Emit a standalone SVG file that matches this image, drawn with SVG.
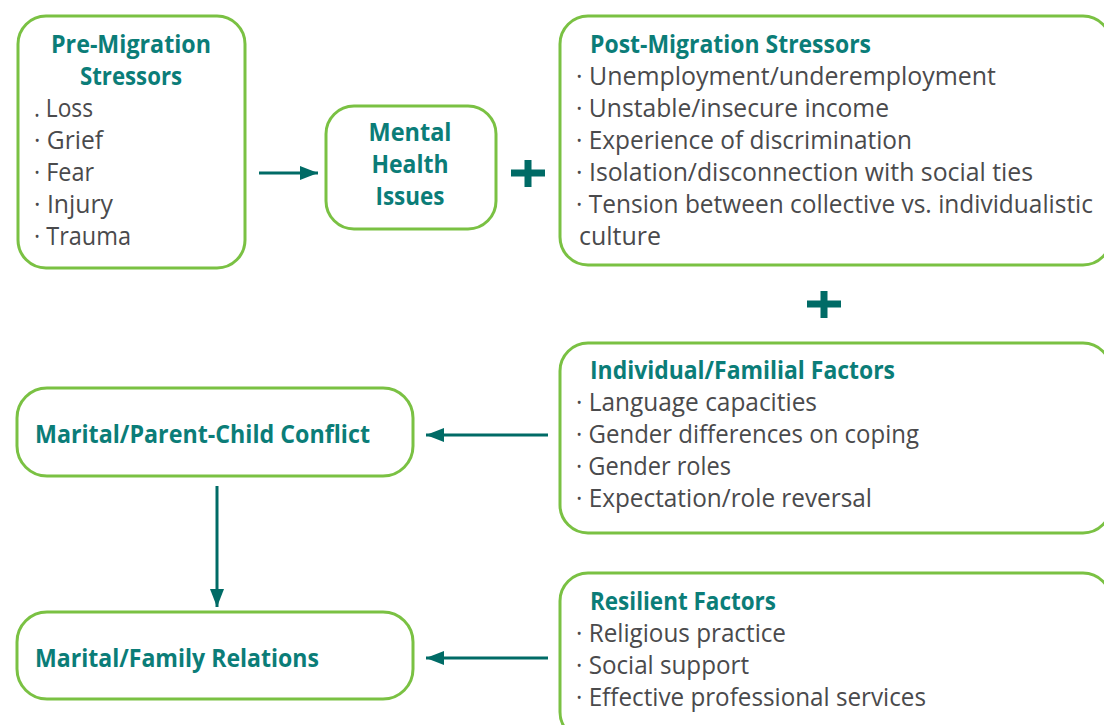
<svg xmlns="http://www.w3.org/2000/svg" width="1104" height="725" viewBox="0 0 1104 725">
<style>
.box{fill:#ffffff;stroke:#7ac143;stroke-width:3}
.hd{font-family:"Open Sans","Noto Sans","Liberation Sans",sans-serif;font-weight:bold;font-size:25px;fill:#0b7d78}
.bd{font-family:"Open Sans","Noto Sans","Liberation Sans",sans-serif;font-size:25px;fill:#4a4a4c}
.mid{text-anchor:middle}
.conn{stroke:#006b66;stroke-width:3;fill:none}
.plus{fill:#006b66}
</style>
<defs>
<marker id="ah" markerUnits="userSpaceOnUse" markerWidth="18" markerHeight="14" refX="18" refY="7" orient="auto">
<path d="M0,0 L18,7 L0,14 z" fill="#006b66"/>
</marker>
</defs>
<rect width="1104" height="725" fill="#ffffff"/>

<g id="pre-migration">
<rect class="box" x="18" y="16" width="227" height="252" rx="28"/>
<text class="hd mid" x="131" y="53" textLength="160" lengthAdjust="spacingAndGlyphs">Pre-Migration</text>
<text class="hd mid" x="131" y="85" textLength="102" lengthAdjust="spacingAndGlyphs">Stressors</text>
<text class="bd" x="34" y="117" textLength="59" lengthAdjust="spacingAndGlyphs">. Loss</text>
<text class="bd" x="34" y="149" textLength="69" lengthAdjust="spacingAndGlyphs">· Grief</text>
<text class="bd" x="34" y="181" textLength="60" lengthAdjust="spacingAndGlyphs">· Fear</text>
<text class="bd" x="34" y="213" textLength="79" lengthAdjust="spacingAndGlyphs">· Injury</text>
<text class="bd" x="34" y="245" textLength="97" lengthAdjust="spacingAndGlyphs">· Trauma</text>
</g>

<g id="mental-health">
<rect class="box" x="326" y="106" width="170" height="123" rx="28"/>
<text class="hd mid" x="410" y="141" textLength="83" lengthAdjust="spacingAndGlyphs">Mental</text>
<text class="hd mid" x="410" y="173" textLength="77" lengthAdjust="spacingAndGlyphs">Health</text>
<text class="hd mid" x="410" y="205" textLength="69" lengthAdjust="spacingAndGlyphs">Issues</text>
</g>

<g id="post-migration">
<rect class="box" x="560" y="16" width="551" height="249" rx="28"/>
<text class="hd" x="590" y="53" textLength="281" lengthAdjust="spacingAndGlyphs">Post-Migration Stressors</text>
<text class="bd" x="576" y="85" textLength="420" lengthAdjust="spacingAndGlyphs">· Unemployment/underemployment</text>
<text class="bd" x="576" y="117" textLength="313" lengthAdjust="spacingAndGlyphs">· Unstable/insecure income</text>
<text class="bd" x="576" y="149" textLength="336" lengthAdjust="spacingAndGlyphs">· Experience of discrimination</text>
<text class="bd" x="576" y="181" textLength="457" lengthAdjust="spacingAndGlyphs">· Isolation/disconnection with social ties</text>
<text class="bd" x="576" y="213" textLength="517" lengthAdjust="spacingAndGlyphs">· Tension between collective vs. individualistic</text>
<text class="bd" x="579" y="245" textLength="82" lengthAdjust="spacingAndGlyphs">culture</text>
</g>

<g id="individual-familial">
<rect class="box" x="560" y="343" width="551" height="190" rx="28"/>
<text class="hd" x="590" y="379" textLength="305" lengthAdjust="spacingAndGlyphs">Individual/Familial Factors</text>
<text class="bd" x="576" y="411" textLength="241" lengthAdjust="spacingAndGlyphs">· Language capacities</text>
<text class="bd" x="576" y="443" textLength="343" lengthAdjust="spacingAndGlyphs">· Gender differences on coping</text>
<text class="bd" x="576" y="475" textLength="155" lengthAdjust="spacingAndGlyphs">· Gender roles</text>
<text class="bd" x="576" y="507" textLength="296" lengthAdjust="spacingAndGlyphs">· Expectation/role reversal</text>
</g>

<g id="resilient">
<rect class="box" x="560" y="573" width="551" height="167" rx="28"/>
<text class="hd" x="590" y="610" textLength="186" lengthAdjust="spacingAndGlyphs">Resilient Factors</text>
<text class="bd" x="576" y="642" textLength="210" lengthAdjust="spacingAndGlyphs">· Religious practice</text>
<text class="bd" x="576" y="674" textLength="173" lengthAdjust="spacingAndGlyphs">· Social support</text>
<text class="bd" x="576" y="706" textLength="350" lengthAdjust="spacingAndGlyphs">· Effective professional services</text>
</g>

<g id="conflict">
<rect class="box" x="17" y="388" width="396" height="88" rx="30"/>
<text class="hd" x="35" y="443" textLength="335" lengthAdjust="spacingAndGlyphs">Marital/Parent-Child Conflict</text>
</g>

<g id="relations">
<rect class="box" x="17" y="612" width="396" height="87" rx="30"/>
<text class="hd" x="35" y="667" textLength="284" lengthAdjust="spacingAndGlyphs">Marital/Family Relations</text>
</g>

<g id="connectors">
<line class="conn" x1="259" y1="173" x2="318" y2="173" marker-end="url(#ah)"/>
<line class="conn" x1="548" y1="435" x2="426" y2="435" marker-end="url(#ah)"/>
<line class="conn" x1="548" y1="658" x2="426" y2="658" marker-end="url(#ah)"/>
<line class="conn" x1="217" y1="486" x2="217" y2="607" marker-end="url(#ah)"/>
<path class="plus" d="M524.5,160 h7 v9.5 h13.5 v7 h-13.5 v10.5 h-7 v-10.5 h-13.5 v-7 h13.5 z"/>
<path class="plus" d="M820.5,291 h7 v9.5 h13.5 v7 h-13.5 v10.5 h-7 v-10.5 h-13.5 v-7 h13.5 z"/>
</g>
</svg>
